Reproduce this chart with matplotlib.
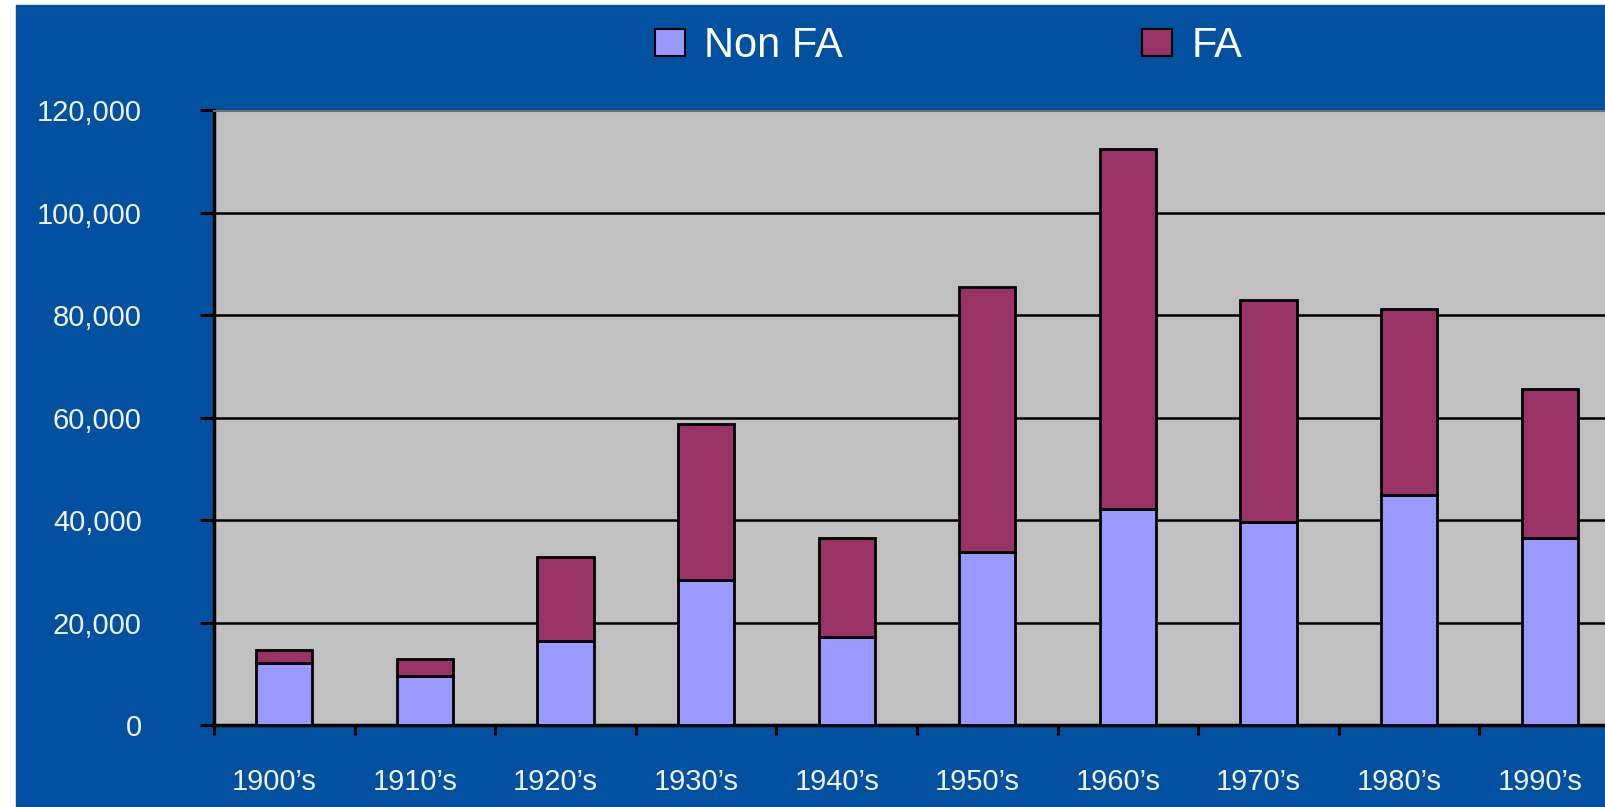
import numpy as np
import matplotlib
matplotlib.use('Agg')
import matplotlib.pyplot as plt
import matplotlib.transforms as mtransforms
from matplotlib.patches import Rectangle, Patch
from matplotlib.ticker import FuncFormatter, FixedLocator

# data
decades = ["1900\u2019s", "1910\u2019s", "1920\u2019s", "1930\u2019s", "1940\u2019s",
           "1950\u2019s", "1960\u2019s", "1970\u2019s", "1980\u2019s", "1990\u2019s"]
non_fa = [12200, 9600, 16400, 28400, 17200, 33800, 42200, 39600, 45000, 36600]
totals = [14600, 12800, 32800, 58800, 36600, 85600, 112400, 83000, 81200, 65600]
fa = [t - n for t, n in zip(totals, non_fa)]

plt.rcParams['font.family'] = ['Liberation Sans', 'DejaVu Sans']

blue = '#0250A0'
fig = plt.figure(figsize=(16.05, 8.07), dpi=100, facecolor='white')
# blue panel with a thin white margin on the left and top
fig.patches.append(Rectangle((16 / 1605, 0), 1, 1 - 5 / 807,
                             transform=fig.transFigure, color=blue, zorder=-1))

ax = fig.add_axes([214 / 1605, 82 / 807, 1406 / 1605, 614.5 / 807])
ax.set_facecolor('#C0C0C0')

x = np.arange(len(decades))
w = 0.4
ax.bar(x, non_fa, w, color='#9999FF', edgecolor='black', linewidth=2.0, zorder=3)
ax.bar(x, fa, w, bottom=non_fa, color='#993366', edgecolor='black',
       linewidth=2.0, zorder=3)

ax.set_xlim(-0.5, len(decades) - 0.5)
ax.set_ylim(0, 120000)
ax.set_yticks(np.arange(0, 120001, 20000))
ax.yaxis.set_major_formatter(FuncFormatter(lambda v, p: f'{int(v):,}'))
ax.yaxis.grid(True, color='black', linewidth=1.8, zorder=1)
ax.set_axisbelow(True)

ax.set_xticks(x)
ax.set_xticklabels(decades)
ax.xaxis.set_minor_locator(FixedLocator(np.arange(-0.5, len(decades), 1.0)))
ax.tick_params(axis='x', which='major', length=0, pad=31, labelsize=21,
               labelcolor='#F2F2F2')
ax.tick_params(axis='x', which='minor', length=7, width=2.2, color='black',
               direction='out')
ax.tick_params(axis='y', length=10, width=2.2, color='black', pad=42,
               labelsize=21, labelcolor='#F2F2F2')

# decade labels sit a little left of the bar centres in the original
shift = mtransforms.ScaledTranslation(-10 / 100, 0, fig.dpi_scale_trans)
for lab in ax.get_xticklabels():
    lab.set_transform(lab.get_transform() + shift)

ax.spines['left'].set_linewidth(2.5)
ax.spines['bottom'].set_linewidth(2.5)
ax.spines['top'].set_color('#707070')
ax.spines['top'].set_linewidth(1.5)
ax.spines['right'].set_visible(False)

handles = [Patch(facecolor='#9999FF', edgecolor='black', linewidth=1.5),
           Patch(facecolor='#993366', edgecolor='black', linewidth=1.5)]
fig.legend(handles, ['Non FA', 'FA'], ncol=2, loc='center',
           bbox_to_anchor=(0.591, 0.943), frameon=False, fontsize=30,
           labelcolor='white', handlelength=0.72, handleheight=0.62,
           handletextpad=0.45, columnspacing=7.2)

fig.savefig('out.png', dpi=100, facecolor=fig.get_facecolor())
